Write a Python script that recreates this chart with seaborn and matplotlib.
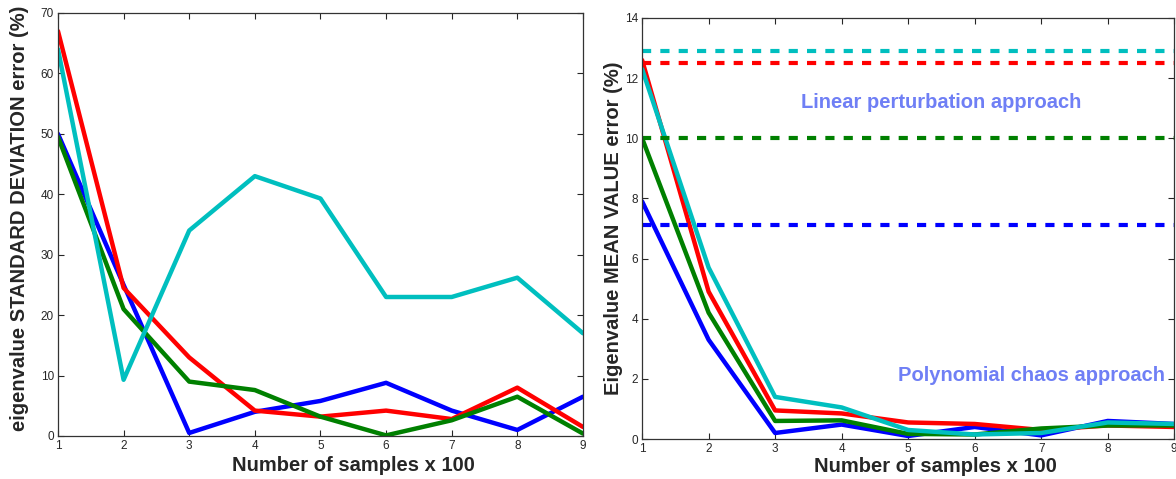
import numpy as np
import pandas as pd
import matplotlib
matplotlib.use("Agg")
import matplotlib.pyplot as plt
import seaborn as sns

samples = [1, 2, 3, 4, 5, 6, 7, 8, 9]
series_names = ["blue", "red", "green", "cyan"]
colors = {"blue": "#0000ff", "red": "#ff0000", "green": "#008000", "cyan": "#00bfbf"}

std_blue = [50, 25, 0.5, 4, 5.8, 8.8, 4.2, 1.0, 6.5]
std_red = [67, 24.5, 13, 4.2, 3.2, 4.2, 2.8, 8.0, 1.5]
std_green = [49.5, 21, 9, 7.6, 3.2, 0.1, 2.6, 6.5, 0.4]
std_cyan = [64, 9.3, 34, 43, 39.3, 23, 23, 26.2, 17]

mean_blue = [7.9, 3.3, 0.2, 0.48, 0.1, 0.4, 0.12, 0.6, 0.5]
mean_red = [12.6, 4.9, 0.95, 0.85, 0.55, 0.5, 0.3, 0.45, 0.4]
mean_green = [10.0, 4.2, 0.6, 0.62, 0.17, 0.15, 0.35, 0.45, 0.45]
mean_cyan = [12.3, 5.7, 1.4, 1.05, 0.3, 0.15, 0.2, 0.55, 0.5]

linear_levels = {"cyan": 12.9, "red": 12.5, "green": 10.0, "blue": 7.1}

std_df = pd.DataFrame({
    "x": samples * 4,
    "y": std_blue + std_red + std_green + std_cyan,
    "s": sum([[n] * 9 for n in series_names], []),
})
mean_df = pd.DataFrame({
    "x": samples * 4,
    "y": mean_blue + mean_red + mean_green + mean_cyan,
    "s": sum([[n] * 9 for n in series_names], []),
})

sns.set_style("ticks")
plt.rcParams["font.family"] = ["Liberation Sans", "DejaVu Sans"]
plt.rcParams["xtick.direction"] = "in"
plt.rcParams["ytick.direction"] = "in"

fig = plt.figure(figsize=(11.76, 4.79), dpi=100)
ax1 = fig.add_axes([0.0493, 0.0898, 0.4464, 0.8831])
ax2 = fig.add_axes([0.546, 0.0835, 0.4525, 0.8790])

sns.lineplot(data=std_df, x="x", y="y", hue="s", palette=colors, linewidth=3.2,
             legend=False, ax=ax1)
sns.lineplot(data=mean_df, x="x", y="y", hue="s", palette=colors, linewidth=3.2,
             legend=False, ax=ax2)
for name in ["cyan", "red", "green", "blue"]:
    ax2.axhline(linear_levels[name], color=colors[name], linestyle=(0, (2.2, 2.2)),
                linewidth=3.0)

ax1.set_xlim(1, 9)
ax1.set_ylim(0, 70)
ax1.set_yticks(range(0, 71, 10))
ax2.set_xlim(1, 9)
ax2.set_ylim(0, 14)
ax2.set_yticks(range(0, 15, 2))

for ax in (ax1, ax2):
    ax.set_xticks(samples)
    ax.tick_params(axis="both", labelsize=8.5, length=4, width=0.8, pad=3,
                   top=True, right=True, direction="in")
    for sp in ax.spines.values():
        sp.set_visible(True)
        sp.set_linewidth(0.9)
        sp.set_color("#333333")
    ax.set_xlabel("Number of samples x 100", fontsize=14.5, fontweight="bold")

ax1.xaxis.set_label_coords(0.562, -0.048)
ax2.xaxis.set_label_coords(0.551, -0.043)

ax1.set_ylabel("eigenvalue STANDARD DEVIATION error (%)", fontsize=14.5,
               fontweight="bold")
ax1.yaxis.set_label_coords(-0.055, 0.515)
ax2.set_ylabel("Eigenvalue MEAN VALUE error (%)", fontsize=14.5,
               fontweight="bold", labelpad=1)

ax2.text(5.5, 11.2, "Linear perturbation approach", color="#6f7ff5",
         fontsize=14.5, fontweight="bold", ha="center", va="center")
ax2.text(6.85, 2.1, "Polynomial chaos approach", color="#6f7ff5",
         fontsize=14.5, fontweight="bold", ha="center", va="center")

fig.savefig("out.png", dpi=100)
